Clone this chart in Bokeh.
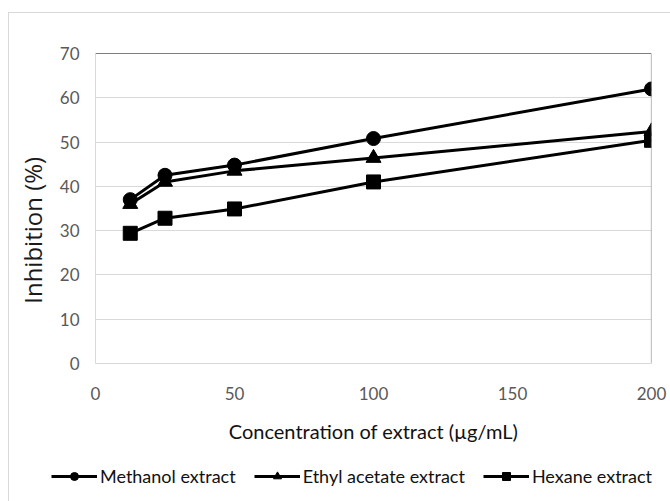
from bokeh.plotting import figure
from bokeh.models import Range1d, FixedTicker, Span, Legend, LegendItem
from bokeh.embed import file_html
from bokeh.resources import INLINE

# ---- data ----
concentration = [12.5, 25, 50, 100, 200]
methanol = [37.0, 42.5, 44.8, 50.8, 62.0]
ethyl_acetate = [36.0, 41.0, 43.5, 46.4, 52.4]
hexane = [29.4, 32.8, 34.9, 41.0, 50.4]
series_names = ["Methanol extract", "Ethyl acetate extract", "Hexane extract"]
x_ticks = [0, 50, 100, 150, 200]
y_ticks = [0, 10, 20, 30, 40, 50, 60, 70]
x_title = "Concentration of extract (\u00b5g/mL)"
y_title = "Inhibition (%)"

NARROW = "Lato"
TICK_COLOR = "#595959"
BORDER = "1px solid #d9d9d9"

p = figure(frame_width=556, frame_height=310, output_backend="svg",
           toolbar_location=None,
           x_range=Range1d(0, 200), y_range=Range1d(0, 70),
           min_border_left=86, min_border_right=19, min_border_top=40,
           min_border_bottom=90)
p.margin = (12, 0, 0, 8)
p.styles = {"border-left": BORDER, "border-top": BORDER}
p.outline_line_color = None
p.background_fill_color = "white"
p.border_fill_color = "white"

# axes
for ax in (p.xaxis[0], p.yaxis[0]):
    ax.major_tick_line_color = None
    ax.minor_tick_line_color = None
    ax.axis_line_color = "#d9d9d9"
    ax.axis_line_width = 1
    ax.major_label_text_font = NARROW
    ax.major_label_text_font_size = "17px"
    ax.major_label_text_color = TICK_COLOR
p.xaxis.ticker = FixedTicker(ticks=x_ticks)
p.yaxis.ticker = FixedTicker(ticks=y_ticks)
p.xaxis.major_label_standoff = 17
p.yaxis.major_label_standoff = 10

p.xaxis.axis_label = x_title
p.xaxis.axis_label_text_font = NARROW
p.xaxis.axis_label_text_font_size = "20px"
p.xaxis.axis_label_text_font_style = "normal"
p.xaxis.axis_label_text_color = "#111111"
p.xaxis.axis_label_standoff = 16

p.yaxis.axis_label = y_title + "\u00a0" * 7
p.yaxis.axis_label_text_font = "Open Sans"
p.yaxis.axis_label_text_font_size = "24px"
p.yaxis.axis_label_text_font_style = "normal"
p.yaxis.axis_label_text_color = "#1a1a1a"
p.yaxis.axis_label_standoff = 8

p.xgrid.grid_line_color = None
p.ygrid.grid_line_color = "#d9d9d9"
p.ygrid.grid_line_width = 1

# plot-area border pieces
p.add_layout(Span(location=70, dimension="width", line_color="black", line_width=1.2))
p.add_layout(Span(location=200, dimension="height", line_color="#8c8c8c", line_width=1.2))

# series
values = [methanol, ethyl_acetate, hexane]
markers = ["circle", "triangle", "square"]
sizes = [14, 15, 14]
for vals, mk, sz in zip(values, markers, sizes):
    p.line(concentration, vals, line_color="black", line_width=3)
    p.scatter(concentration, vals, marker=mk, size=sz, fill_color="black",
              line_color="black")

# legend strip (separate canvas so the legend is not clipped)
p2 = figure(width=661, height=48, output_backend="svg", toolbar_location=None,
            x_range=Range1d(0, 200), y_range=Range1d(1000, 1001),
            x_axis_location=None, y_axis_location=None,
            min_border=0, min_border_left=0, min_border_right=0,
            min_border_top=0, min_border_bottom=0)
p2.margin = (0, 0, 0, 8)
p2.styles = {"border-left": BORDER}
p2.outline_line_color = None
p2.grid.visible = False
p2.background_fill_color = "white"
p2.border_fill_color = "white"

items = []
for name, vals, mk, sz in zip(series_names, values, markers, sizes):
    ln = p2.line(concentration, vals, line_color="black", line_width=3)
    sc = p2.scatter(concentration, vals, marker=mk, size=sz, fill_color="black",
                    line_color="black")
    items.append(LegendItem(label=name, renderers=[ln, sc]))

legend = Legend(items=items, orientation="horizontal", location=(42, 14),
                border_line_alpha=0, background_fill_alpha=0, padding=0, margin=0,
                spacing=18, glyph_width=46, glyph_height=20, label_standoff=3,
                label_text_font=NARROW, label_text_font_size="18px",
                label_text_color="#111111")
p2.add_layout(legend)

open("out.html", "w").write(file_html([p, p2], INLINE))
